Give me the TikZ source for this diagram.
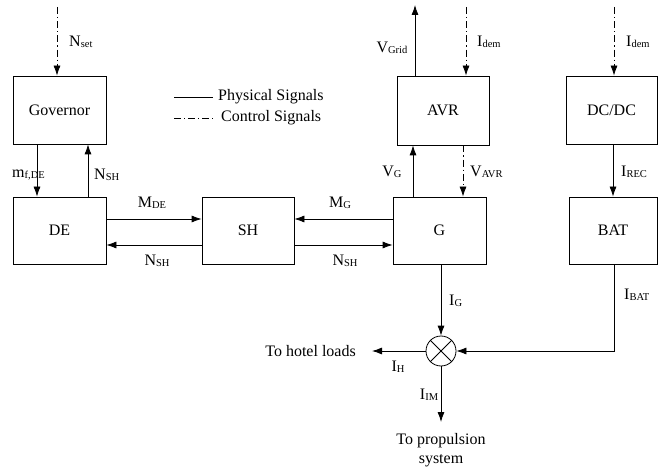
\documentclass[tikz,border=0pt]{standalone}
\usepackage{fontspec}
\setmainfont{Liberation Serif}
\newfontfamily\tnr{Liberation Serif}
\usetikzlibrary{arrows.meta}
\newcommand\sbx[1]{\raisebox{-1.5pt}{\fontsize{10.5}{10.5}\selectfont #1}}
\begin{document}
\begin{tikzpicture}[x=1pt,y=-1pt,
  font=\tnr\fontsize{16}{19}\selectfont,
  blk/.style={draw, line width=0.8pt, inner sep=0pt},
  conn/.style={line width=0.8pt, -{Latex[length=10pt,width=7pt]}},
  ctrl/.style={conn, dash pattern=on 7pt off 3pt on 1.2pt off 3pt},
  lbl/.style={inner sep=0pt}]
\useasboundingbox (0,0) rectangle (658,470);
% blocks
\node[blk, minimum width=93pt, minimum height=68pt] (gov) at (59.5,110) {Governor};
\node[blk, minimum width=93pt, minimum height=67pt] (de) at (59.5,230.5) {DE};
\node[blk, minimum width=92pt, minimum height=67pt] (sh) at (248,230.5) {SH};
\node[blk, minimum width=92pt, minimum height=69pt] (avr) at (443,110.5) {AVR};
\node[blk, minimum width=93pt, minimum height=67pt] (g) at (439.5,230.5) {G};
\node[blk, minimum width=91pt, minimum height=68pt] (dcdc) at (611.5,110) {DC/DC};
\node[blk, minimum width=88pt, minimum height=67pt] (bat) at (613,230.5) {BAT};
\node[draw, circle, line width=0.8pt, minimum size=30pt, inner sep=0pt] (sum) at (441,351) {};
\draw[line width=0.8pt] (sum.north west) -- (sum.south east) (sum.north east) -- (sum.south west);
% free ends
\coordinate (nsetin) at (57,7);
\coordinate (vgrid) at (415,5);
\coordinate (idemA) at (466,7);
\coordinate (idemB) at (614,7);
\coordinate (hl) at (372,351);
\coordinate (pr) at (441,422);
% connectors
\draw[ctrl] (nsetin) -- (nsetin |- gov.north);
\draw[conn] ([xshift=-22.5pt]gov.south) -- ([xshift=-22.5pt]de.north);
\draw[conn] ([xshift=28.5pt]de.north) -- ([xshift=28.5pt]gov.south);
\draw[conn] ([yshift=11.5pt]de.east) -- ([yshift=11.5pt]sh.west);
\draw[conn] ([yshift=-14.5pt]sh.west) -- ([yshift=-14.5pt]de.east);
\draw[conn] ([yshift=11.5pt]g.west) -- ([yshift=11.5pt]sh.east);
\draw[conn] ([yshift=-14.5pt]sh.east) -- ([yshift=-14.5pt]g.west);
\draw[conn] ([xshift=-28pt]avr.north) -- (vgrid);
\draw[ctrl] (idemA) -- (idemA |- avr.north);
\draw[conn] ([xshift=-26.5pt]g.north) -- ([xshift=-26.5pt]g.north |- avr.south);
\draw[ctrl] ([xshift=20pt]avr.south) -- ([xshift=20pt]avr.south |- g.north);
\draw[ctrl] (idemB) -- (idemB |- dcdc.north);
\draw[conn] ([xshift=1.5pt]dcdc.south) -- ([xshift=1.5pt]dcdc.south |- bat.north);
\draw[conn] (sum.north |- g.south) -- (sum.north);
\draw[conn] ([xshift=1pt]bat.south) -- ([xshift=1pt]bat.south |- sum.east) -- (sum.east);
\draw[conn] (sum.west) -- (hl);
\draw[conn] (sum.south) -- (pr);
% legend
\draw[line width=0.8pt] (174,97) -- (213,97);
\draw[line width=0.8pt, dash pattern=on 7pt off 3pt on 1.2pt off 3pt] (174,118) -- (213,118);
\node[lbl, anchor=west] (lp) at (218,97) {Physical Signals};
\node[lbl, anchor=west] (lc) at (221,118) {Control Signals};
% labels
\node[lbl, anchor=west] (t1) at (69,42) {N\sbx{set}};
\node[lbl, anchor=east] (t2) at (45,175) {m\sbx{f,DE}};
\node[lbl, anchor=west] (t3) at (94,175) {N\sbx{SH}};
\node[lbl] (t4) at (152,203) {M\sbx{DE}};
\node[lbl] (t5) at (157,261) {N\sbx{SH}};
\node[lbl] (t6) at (340,203) {M\sbx{G}};
\node[lbl] (t7) at (345,261) {N\sbx{SH}};
\node[lbl] (t8) at (392,48) {V\sbx{Grid}};
\node[lbl, anchor=west] (t9) at (477,42) {I\sbx{dem}};
\node[lbl, anchor=west] (t10) at (626,42) {I\sbx{dem}};
\node[lbl] (t11) at (392,172) {V\sbx{G}};
\node[lbl, anchor=west] (t12) at (470,172) {V\sbx{AVR}};
\node[lbl, anchor=west] (t13) at (621,172) {I\sbx{REC}};
\node[lbl, anchor=west] (t14) at (449,301) {I\sbx{G}};
\node[lbl, anchor=west] (t15) at (624,295) {I\sbx{BAT}};
\node[lbl] (t16) at (398,367) {I\sbx{H}};
\node[lbl] (t17) at (429,395) {I\sbx{IM}};
\node[lbl, anchor=east] (hotel) at (356,351) {To hotel loads};
\node[lbl, align=center] (prop) at (441,450) {To propulsion\\system};
\end{tikzpicture}
\end{document}
